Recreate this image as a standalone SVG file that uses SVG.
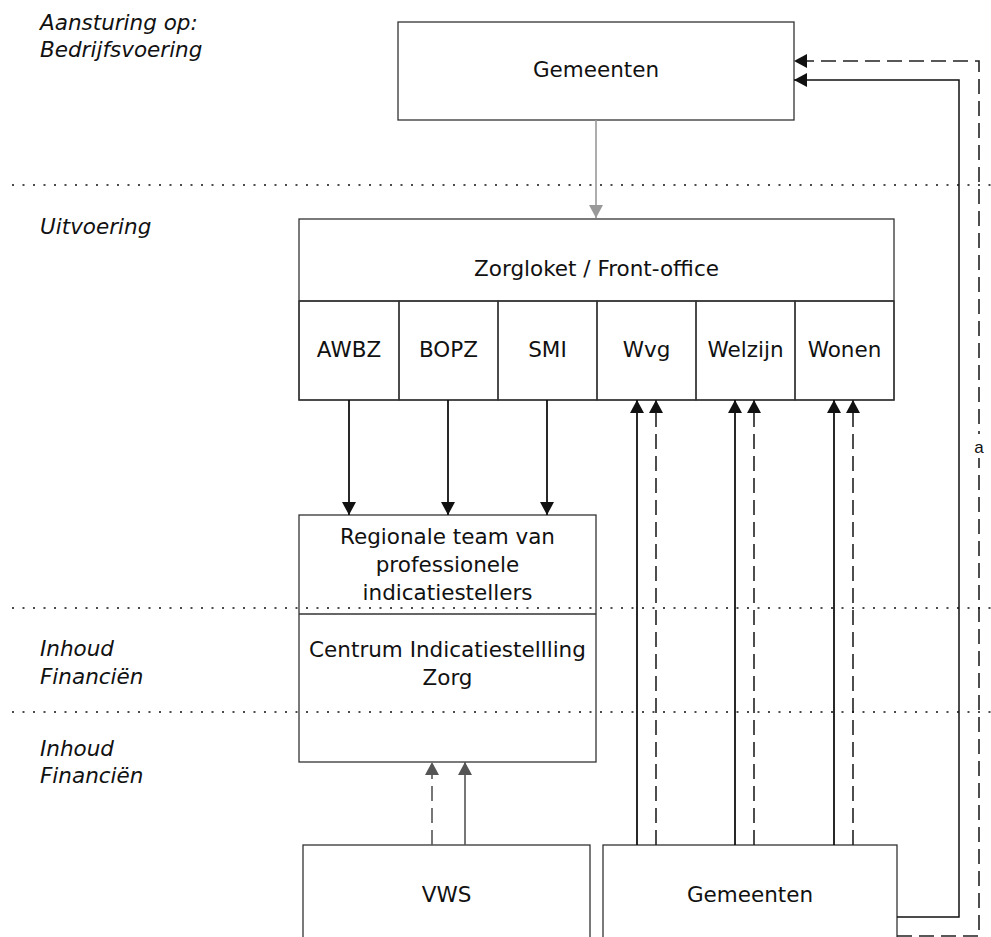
<svg xmlns="http://www.w3.org/2000/svg" width="991" height="937" viewBox="0 0 991 937">
  <style>
    .box { fill: #ffffff; stroke: #333333; stroke-width: 1.3; }
    .cell { fill: none; stroke: #333333; stroke-width: 1.3; }
    .lbl { font-family: "DejaVu Sans", Verdana, sans-serif; font-size: 21.5px; fill: #111111; text-anchor: middle; }
    .side { font-family: "DejaVu Sans", Verdana, sans-serif; font-size: 21.5px; font-style: italic; fill: #111111; }
    .dots { stroke: #111111; stroke-width: 1.6; stroke-dasharray: 2 8.5; fill: none; }
    .solid { stroke: #111111; stroke-width: 1.8; fill: none; }
    .dash { stroke: #222222; stroke-width: 1.6; stroke-dasharray: 15 7; fill: none; }
    .grey { stroke: #999999; stroke-width: 1.6; fill: none; }
    .mid { stroke: #555555; stroke-width: 1.6; fill: none; }
    .middash { stroke: #555555; stroke-width: 1.6; stroke-dasharray: 15 7; fill: none; }
  </style>
  <defs>
    <marker id="ah" viewBox="0 0 13 14" markerWidth="13" markerHeight="14" refX="13" refY="7" orient="auto" markerUnits="userSpaceOnUse">
      <path d="M0,0 L13,7 L0,14 z" fill="#111111"/>
    </marker>
    <marker id="ah-grey" viewBox="0 0 13 14" markerWidth="13" markerHeight="14" refX="13" refY="7" orient="auto" markerUnits="userSpaceOnUse">
      <path d="M0,0 L13,7 L0,14 z" fill="#999999"/>
    </marker>
    <marker id="ah-mid" viewBox="0 0 13 14" markerWidth="13" markerHeight="14" refX="13" refY="7" orient="auto" markerUnits="userSpaceOnUse">
      <path d="M0,0 L13,7 L0,14 z" fill="#555555"/>
    </marker>
  </defs>

  <!-- level labels on the left -->
  <g id="levels">
    <text class="side" x="40" y="30">Aansturing op:</text>
    <text class="side" x="40" y="57">Bedrijfsvoering</text>
    <text class="side" x="40" y="234">Uitvoering</text>
    <text class="side" x="40" y="656">Inhoud</text>
    <text class="side" x="40" y="684">Financiën</text>
    <text class="side" x="40" y="756">Inhoud</text>
    <text class="side" x="40" y="783">Financiën</text>
  </g>

  <!-- nodes -->
  <g id="gemeenten-top">
    <rect class="box" x="398" y="22" width="396" height="98"/>
    <text class="lbl" x="596" y="77">Gemeenten</text>
  </g>

  <g id="zorgloket">
    <rect class="box" x="299" y="219" width="595" height="181"/>
    <line class="cell" x1="299" y1="301" x2="894" y2="301"/>
    <text class="lbl" x="596.5" y="276">Zorgloket / Front-office</text>
  </g>
  <g id="cell-awbz">
    <rect class="cell" x="299" y="301" width="100" height="99"/>
    <text class="lbl" x="349" y="357">AWBZ</text>
  </g>
  <g id="cell-bopz">
    <rect class="cell" x="399" y="301" width="99" height="99"/>
    <text class="lbl" x="448.5" y="357">BOPZ</text>
  </g>
  <g id="cell-smi">
    <rect class="cell" x="498" y="301" width="99" height="99"/>
    <text class="lbl" x="547.5" y="357">SMI</text>
  </g>
  <g id="cell-wvg">
    <rect class="cell" x="597" y="301" width="99" height="99"/>
    <text class="lbl" x="646.5" y="357">Wvg</text>
  </g>
  <g id="cell-welzijn">
    <rect class="cell" x="696" y="301" width="99" height="99"/>
    <text class="lbl" x="745.5" y="357">Welzijn</text>
  </g>
  <g id="cell-wonen">
    <rect class="cell" x="795" y="301" width="99" height="99"/>
    <text class="lbl" x="844.5" y="357">Wonen</text>
  </g>

  <g id="indicatie">
    <rect class="box" x="299" y="515" width="297" height="247"/>
    <line class="cell" x1="299" y1="614" x2="596" y2="614"/>
    <text class="lbl" x="447.5" y="544">Regionale team van</text>
    <text class="lbl" x="447.5" y="572">professionele</text>
    <text class="lbl" x="447.5" y="600">indicatiestellers</text>
    <text class="lbl" x="447.5" y="657">Centrum Indicatiestellling</text>
    <text class="lbl" x="447.5" y="685">Zorg</text>
  </g>

  <g id="vws">
    <rect class="box" x="303" y="845" width="287" height="110"/>
    <text class="lbl" x="446.5" y="902">VWS</text>
  </g>

  <g id="gemeenten-bottom">
    <rect class="box" x="603" y="845" width="294" height="110"/>
    <text class="lbl" x="750" y="902">Gemeenten</text>
  </g>

  <!-- connectors -->
  <g id="connectors">
    <line class="grey" x1="596" y1="120" x2="596" y2="218" marker-end="url(#ah-grey)"/>

    <line class="solid" x1="349" y1="400" x2="349" y2="515" marker-end="url(#ah)"/>
    <line class="solid" x1="448" y1="400" x2="448" y2="515" marker-end="url(#ah)"/>
    <line class="solid" x1="547" y1="400" x2="547" y2="515" marker-end="url(#ah)"/>

    <line class="solid" x1="637" y1="845" x2="637" y2="400" marker-end="url(#ah)"/>
    <line class="dash" x1="656" y1="845" x2="656" y2="400" marker-end="url(#ah)"/>
    <line class="solid" x1="735" y1="845" x2="735" y2="400" marker-end="url(#ah)"/>
    <line class="dash" x1="754" y1="845" x2="754" y2="400" marker-end="url(#ah)"/>
    <line class="solid" x1="834" y1="845" x2="834" y2="400" marker-end="url(#ah)"/>
    <line class="dash" x1="853" y1="845" x2="853" y2="400" marker-end="url(#ah)"/>

    <line class="middash" x1="432" y1="845" x2="432" y2="762" marker-end="url(#ah-mid)"/>
    <line class="mid" x1="465" y1="845" x2="465" y2="762" marker-end="url(#ah-mid)"/>

    <polyline class="solid" style="stroke-width:1.5" points="897,917 959,917 959,80 794,80" marker-end="url(#ah)"/>
    <polyline class="dash" points="897,936 979,936 979,61 794,61" marker-end="url(#ah)"/>
    <rect x="972" y="434" width="14" height="24" fill="#ffffff"/>
    <text x="979" y="453" font-family="Liberation Sans, Arial, sans-serif" font-size="17" text-anchor="middle" fill="#111111">a</text>
  </g>

  <!-- dotted level separators -->
  <g id="separators">
    <line class="dots" x1="12" y1="185" x2="991" y2="185"/>
    <line class="dots" x1="12" y1="608" x2="991" y2="608"/>
    <line class="dots" x1="12" y1="712" x2="991" y2="712"/>
  </g>
</svg>
